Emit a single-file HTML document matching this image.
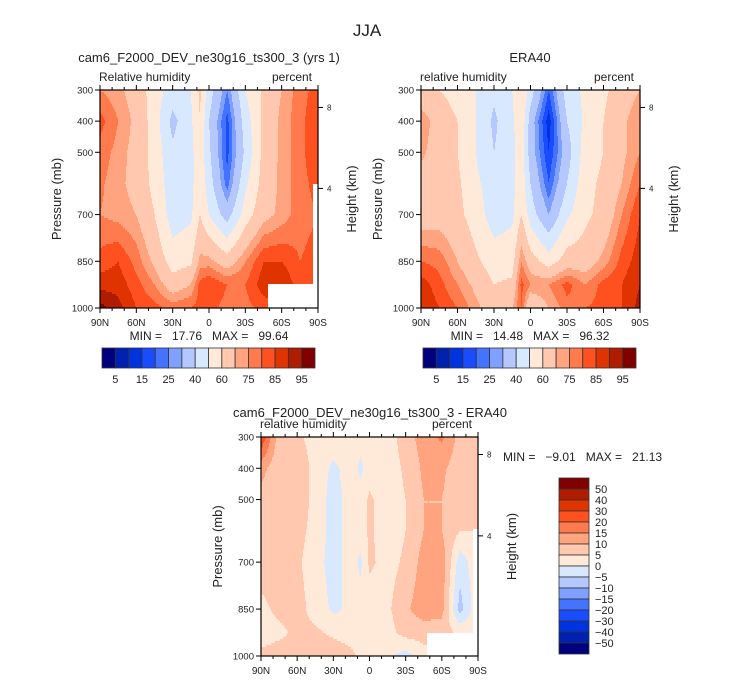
<!DOCTYPE html>
<html><head><meta charset="utf-8"><style>
body{margin:0;background:#fff}
svg{display:block;font-family:"Liberation Sans",sans-serif;fill:#222}
text{white-space:pre}
</style></head><body>
<svg id="fig" width="733" height="680" viewBox="0 0 733 680" xmlns="http://www.w3.org/2000/svg">
<text x="367" y="36" font-size="17" text-anchor="middle">JJA</text>
<g id="layer"></g>
</svg>
<script>
const lats=[90,75,60,45,30,15,7.5,0,-15,-30,-45,-60,-75,-90];
const levels=[300,400,500,600,700,850,925,1000];
const modelRH=[[75,82,78,76,75,82,88,97],[72,75,73,72,73,85,88,92],[66,68,67,67,70,78,82,85],[55,55,56,57,60,68,75,82],[45,37,42,44,45,55,65,78],[50,48,47,47,48,58,70,80],[62,60,57,57,60,72,82,82],[45,40,42,45,50,72,85,82],[25,18,18,22,35,65,80,78],[50,45,42,48,55,75,80,78],[62,62,63,64,67,85,88,82],[70,72,72,72,72,85,90,85],[78,78,78,78,78,80,82,85],[82,85,85,82,80,82,85,85]];
const eraRH=[[62,75,72,65,65,80,88,90],[60,65,65,65,66,78,82,85],[57,60,60,62,63,70,75,80],[50,50,50,52,55,62,68,72],[42,38,40,45,45,55,60,65],[50,48,47,47,48,56,62,70],[60,58,56,56,60,75,82,80],[45,35,35,40,45,65,75,60],[20,12,15,20,30,55,75,70],[45,40,35,40,48,65,82,78],[52,52,55,57,58,65,75,80],[58,60,60,62,63,72,82,82],[65,68,68,70,75,82,85,85],[70,75,75,80,85,88,90,92]];
const diffRH=[[25,12,8,7,7,4,3,6],[7,6,6,6,6,6,4,7],[6,9,9,7,6,7,6,6],[3,3,3,3,2,3,6,8],[3,-1,-2,-2,-2,-1,4,8],[4,2,2,2,2,1,3,6],[2,-1,2,2,-1,2,3,4],[2,2,6,6,6,2,3,4],[2,2,2,2,3,4,3,1],[8,6,5,5,6,9,7,-2],[12,11,10,10,12,13,7,3],[16,11,10,10,13,12,7,3],[8,7,7,5,-3,-7,4,4],[6,6,6,5,4,4,4,4]];
const rhBounds=[5,10,15,20,25,30,40,50,60,70,75,80,85,90,95];
const diffBounds=[-50,-40,-30,-20,-15,-10,-5,0,5,10,15,20,30,40,50];
const xTickLats=[90,60,30,0,-30,-60,-90];
const xTickLabels=["90N","60N","30N","0","30S","60S","90S"];
const pTicks=[300,400,500,700,850,1000];
const zTicks=[8,4];
const zTickPressures=[356,616];
const colors=['#00007f','#0020b0','#0033e0','#1a4cff','#4473ff','#80a0ff','#b4c8ff','#d8e8ff','#ffe9d8','#ffc8af','#ffa47f','#ff7a4d','#ff5020','#e03400','#b01c00','#800000'];
const NS='http://www.w3.org/2000/svg';
const layer=document.getElementById('layer');
function mk(tag,attrs,parent,txt){const e=document.createElementNS(NS,tag);for(const k in attrs)e.setAttribute(k,attrs[k]);if(txt!==undefined)e.textContent=txt;(parent||layer).appendChild(e);return e;}
function interp(data,lat,p){
  let i=0;while(i<lats.length-2&&lat<lats[i+1])i++;
  let j=0;while(j<levels.length-2&&p>levels[j+1])j++;
  const tx=(lats[i]-lat)/(lats[i]-lats[i+1]);const ty=(p-levels[j])/(levels[j+1]-levels[j]);
  const a=data[i][j]*(1-ty)+data[i][j+1]*ty, b=data[i+1][j]*(1-ty)+data[i+1][j+1]*ty;
  return a*(1-tx)+b*tx;}
function idx(v,b){let k=0;while(k<b.length&&v>=b[k])k++;return k;}
function panel(cfg){
  const g=mk('g',{});
  
  
  const {x0,y0,w,h}=cfg;
  const sx=lat=>x0+(90-lat)/180*w, sy=p=>y0+(p-300)/700*h;
  const fg=mk('g',{},g);
  
  
  for(let py=0;py<h;py+=2){
    const p=300+(py+1)/h*700;let run=null;
    const flush=(end)=>{if(run&&run.c>=0){const r=mk('rect',{x:x0+run.s,y:y0+py,width:end-run.s,height:Math.min(2,h-py),fill:colors[run.c]},fg);}};
    for(let px=0;px<w;px++){
      const lat=90-(px+0.5)/w*180;
      let c=idx(interp(cfg.data,lat,p),cfg.bounds);
      if(cfg.mask(lat,p))c=-1;
      if(!run||run.c!==c){flush(px);run={s:px,c:c};}
    }
    flush(w);
  }
  const fr=mk('rect',{x:x0,y:y0,width:w,height:h,fill:'none',stroke:'#000','stroke-width':1.2},g);
  
  
  for(let lat=90;lat>=-90;lat-=10){const x=sx(lat),L=(lat%30===0)?5:3;
    mk('line',{x1:x,x2:x,y1:y0,y2:y0-L,stroke:'#000'},g);mk('line',{x1:x,x2:x,y1:y0+h,y2:y0+h+L,stroke:'#000'},g);}
  xTickLats.forEach((lat,k)=>{const t=mk('text',{x:sx(lat),y:y0+h+18,'font-size':10,'text-anchor':'middle'},g,xTickLabels[k]);});
  pTicks.forEach(p=>{const y=sy(p);mk('line',{x1:x0,x2:x0-5,y1:y,y2:y,stroke:'#000'},g);const t=mk('text',{x:x0-7,y:y+3.5,'font-size':9.5,'text-anchor':'end'},g,String(p));});
  zTicks.forEach((z,k)=>{const y=sy(zTickPressures[k]);mk('line',{x1:x0+w,x2:x0+w+5,y1:y,y2:y,stroke:'#000'},g);const t=mk('text',{x:x0+w+9,y:y+3,'font-size':8},g,String(z));});
  let t=mk('text',{transform:`translate(${x0-39},${y0+h/2}) rotate(-90)`,'font-size':13,'text-anchor':'middle'},g,'Pressure (mb)');
  t=mk('text',{transform:`translate(${x0+w+38},${y0+h/2}) rotate(-90)`,'font-size':13,'text-anchor':'middle'},g,'Height (km)');
  t=mk('text',{x:x0-1,y:y0-9,'font-size':12},g,cfg.left);
  t=mk('text',{x:x0+w-6,y:y0-9,'font-size':12,'text-anchor':'end'},g,'percent');
  t=mk('text',{x:cfg.tx,y:cfg.ty,'font-size':13,'text-anchor':'middle'},g,cfg.title);
  t=mk('text',{x:cfg.mx,y:cfg.my,'font-size':12,'text-anchor':cfg.ma},g,cfg.minmax);
}
panel({name:'model-panel',x0:100,y0:90,w:218,h:218,data:modelRH,bounds:rhBounds,left:'Relative humidity',title:'cam6_F2000_DEV_ne30g16_ts300_3 (yrs 1)',tx:209,ty:62,minmax:'MIN =   17.76   MAX =   99.64',mx:209,my:340,ma:'middle',
  mask:(lat,p)=>(lat<-48.7&&p>926)||(lat<-86&&p>605)});
panel({name:'era40-panel',x0:421,y0:90,w:219,h:218,data:eraRH,bounds:rhBounds,left:'relative humidity',title:'ERA40',tx:530,ty:62,minmax:'MIN =   14.48   MAX =   96.32',mx:530,my:340,ma:'middle',mask:()=>false});
panel({name:'diff-panel',x0:261,y0:437,w:217,h:219,data:diffRH,bounds:diffBounds,left:'relative humidity',title:'cam6_F2000_DEV_ne30g16_ts300_3 - ERA40',tx:370,ty:417,minmax:'MIN =   \u22129.01   MAX =   21.13',mx:503,my:461,ma:'start',
  mask:(lat,p)=>(lat<-47.7&&p>926)||(lat<-86&&p>597)});
function hbar(name,x0,y0,w,h){
  const g=mk('g',{});
  const bw=w/colors.length;
  colors.forEach((c,k)=>{const r=mk('rect',{x:x0+k*bw,y:y0,width:bw,height:h,fill:c,stroke:'#333','stroke-width':0.8},g);});
  rhBounds.forEach((b,k)=>{if(k%2===0){const t=mk('text',{x:x0+(k+1)*bw,y:y0+h+15,'font-size':11,'text-anchor':'middle'},g,String(b));}});
}
hbar('model-colorbar',102,348,213,20);
hbar('era40-colorbar',423,348,213,20);
(function(){
  const x0=559,y0=478,w=30,h=176;const bh=h/colors.length;
  const g=mk('g',{});
  colors.slice().reverse().forEach((c,k)=>{const r=mk('rect',{x:x0,y:y0+k*bh,width:w,height:bh,fill:c,stroke:'#333','stroke-width':0.8},g);});
  diffBounds.slice().reverse().forEach((b,k)=>{const t=mk('text',{x:x0+w+6,y:y0+(k+1)*bh+4,'font-size':11},g,b<0?'\u2212'+(-b):String(b));});
})();
</script>
</body></html>
